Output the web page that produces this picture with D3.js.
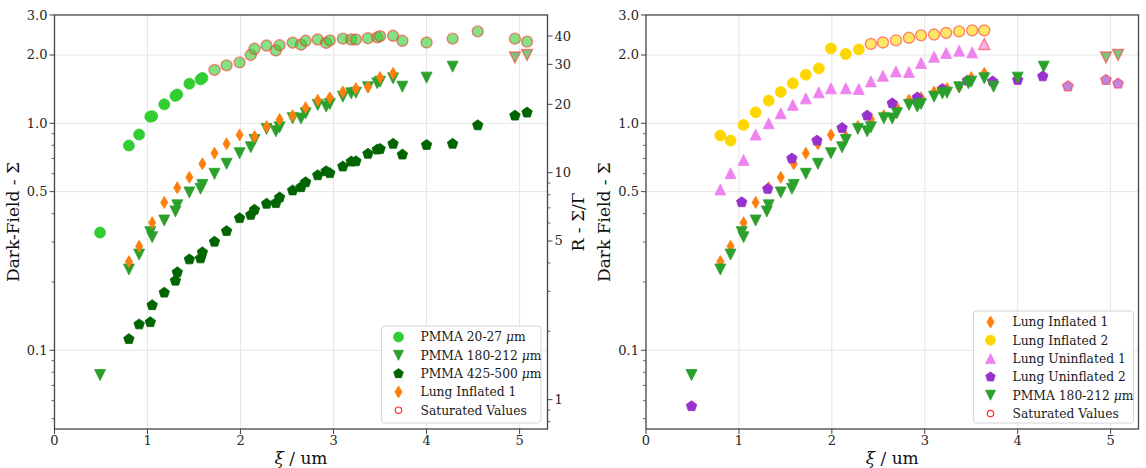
<!DOCTYPE html>
<html lang="en">
<head>
  <meta charset="UTF-8">
  <title>Dark-field vs correlation length</title>
  <script src="https://d3js.org/d3.v7.min.js"></script>
  <style>
    body { margin: 0; background: #fff; }
    svg { display: block; font-family: "DejaVu Serif", serif; }
    .tick-label { font-size: 13px; fill: #262626; }
    .axis-title { font-size: 17px; fill: #111; }
    .legend-text { font-size: 12.3px; fill: #1a1a1a; }
  </style>
</head>
<body>
  <svg id="chart" width="1146" height="468"></svg>
  <script>
    // --- data ---
    const pmma20Xi  = [0.49, 0.80, 0.91, 1.03, 1.05, 1.18, 1.30, 1.32, 1.45, 1.57, 1.59, 1.72, 1.85, 1.99, 2.11, 2.15, 2.28, 2.38, 2.42, 2.56, 2.65, 2.70, 2.83, 2.92, 2.96, 3.10, 3.19, 3.24, 3.37, 3.47, 3.50, 3.64, 3.74, 4.00, 4.28, 4.55, 4.95, 5.08];
    const pmma20Val = [0.330, 0.798, 0.892, 1.07, 1.075, 1.212, 1.32, 1.34, 1.495, 1.56, 1.585, 1.718, 1.80, 1.855, 2.0, 2.13, 2.20, 2.094, 2.21, 2.265, 2.22, 2.31, 2.34, 2.26, 2.32, 2.36, 2.34, 2.34, 2.37, 2.39, 2.42, 2.43, 2.31, 2.27, 2.36, 2.54, 2.36, 2.29];
    const pmma20SatFrom = 11;

    const pmma180Xi  = [0.49, 0.80, 0.91, 1.03, 1.05, 1.18, 1.30, 1.32, 1.45, 1.57, 1.59, 1.72, 1.85, 1.99, 2.11, 2.15, 2.28, 2.38, 2.42, 2.56, 2.65, 2.70, 2.83, 2.92, 2.96, 3.10, 3.19, 3.24, 3.37, 3.47, 3.50, 3.64, 3.74, 4.00, 4.28, 4.95, 5.08];
    const pmma180Val = [0.0778, 0.227, 0.264, 0.3315, 0.315, 0.373, 0.409, 0.435, 0.496, 0.515, 0.535, 0.599, 0.663, 0.738, 0.784, 0.845, 0.945, 0.922, 0.96, 1.052, 1.05, 1.107, 1.205, 1.184, 1.217, 1.31, 1.355, 1.364, 1.44, 1.50, 1.526, 1.578, 1.45, 1.589, 1.776, 1.95, 2.0];
    const pmma180SatFrom = 35;

    const pmma425Xi  = [0.80, 0.91, 1.03, 1.05, 1.18, 1.30, 1.32, 1.45, 1.57, 1.59, 1.72, 1.85, 1.99, 2.11, 2.15, 2.28, 2.38, 2.42, 2.56, 2.65, 2.70, 2.83, 2.92, 2.96, 3.10, 3.19, 3.24, 3.37, 3.47, 3.50, 3.64, 3.74, 4.00, 4.28, 4.55, 4.95, 5.08];
    const pmma425Val = [0.112, 0.130, 0.133, 0.158, 0.1794, 0.2026, 0.2205, 0.2514, 0.254, 0.27, 0.3008, 0.335, 0.382, 0.395, 0.416, 0.442, 0.445, 0.471, 0.506, 0.523, 0.55, 0.590, 0.615, 0.603, 0.645, 0.678, 0.680, 0.734, 0.766, 0.771, 0.812, 0.728, 0.803, 0.812, 0.98, 1.081, 1.115];
    const pmma425SatFrom = 99;

    const inflated1Xi  = [0.80, 0.91, 1.05, 1.18, 1.32, 1.45, 1.59, 1.72, 1.85, 1.99, 2.15, 2.28, 2.42, 2.56, 2.70, 2.83, 2.96, 3.10, 3.24, 3.37, 3.50, 3.64];
    const inflated1Val = [0.246, 0.287, 0.365, 0.448, 0.52, 0.578, 0.663, 0.738, 0.812, 0.889, 0.874, 0.967, 1.04, 1.081, 1.172, 1.265, 1.296, 1.375, 1.423, 1.445, 1.59, 1.66];
    const inflated1SatFrom = 99;

    const inflated2Xi  = [0.80, 0.91, 1.05, 1.18, 1.32, 1.45, 1.58, 1.72, 1.86, 1.99, 2.15, 2.29, 2.42, 2.55, 2.69, 2.83, 2.96, 3.10, 3.23, 3.37, 3.51, 3.64];
    const inflated2Val = [0.883, 0.839, 0.984, 1.118, 1.259, 1.374, 1.50, 1.637, 1.745, 2.138, 2.02, 2.116, 2.236, 2.27, 2.32, 2.38, 2.44, 2.46, 2.50, 2.54, 2.565, 2.565];
    const inflated2SatFrom = 12;

    const uninflated1Xi  = [0.80, 0.91, 1.05, 1.18, 1.32, 1.45, 1.58, 1.72, 1.86, 1.99, 2.15, 2.29, 2.42, 2.55, 2.69, 2.83, 2.96, 3.10, 3.23, 3.37, 3.51, 3.64];
    const uninflated1Val = [0.511, 0.603, 0.69, 0.892, 1.0, 1.107, 1.205, 1.288, 1.369, 1.426, 1.426, 1.417, 1.53, 1.62, 1.693, 1.683, 1.844, 1.965, 2.04, 2.089, 2.053, 2.236];
    const uninflated1SatFrom = 21;

    const uninflated2Xi  = [0.49, 1.03, 1.31, 1.57, 1.84, 2.11, 2.38, 2.65, 2.92, 3.19, 3.46, 3.73, 4.00, 4.27, 4.54, 4.95, 5.08];
    const uninflated2Val = [0.0567, 0.449, 0.514, 0.70, 0.839, 0.954, 1.081, 1.224, 1.30, 1.417, 1.541, 1.53, 1.552, 1.61, 1.455, 1.552, 1.495];
    const uninflated2SatFrom = 14;

    const xTicks = [0, 1, 2, 3, 4, 5];
    const yTicks = [0.1, 0.5, 1.0, 2.0, 3.0];
    const yMinor = [0.05, 0.06, 0.07, 0.08, 0.09, 0.2, 0.3, 0.4, 0.6, 0.7, 0.8, 0.9];
    const rTicks = [1, 5, 10, 20, 30, 40];
    const rMinor = [0.8, 0.9, 2, 3, 4, 6, 7, 8, 9];
    const rFactor = 16.5;   // R = Σ * rFactor on the twin axis

    const svg = d3.select('#chart');
    const plotTop = 15, plotBottom = 429;
    const spineColor = '#444';
    const gridColor = '#e6e6e6';

    function series(name, xi, val, satFrom, marker, color) {
      return {
        name, marker, color,
        points: xi.map((x, i) => ({ x, y: val[i], sat: i >= satFrom }))
      };
    }

    const sPmma20 = series('PMMA 20-27 ', pmma20Xi, pmma20Val, pmma20SatFrom, 'o', '#32cd32');
    const sPmma180 = series('PMMA 180-212 ', pmma180Xi, pmma180Val, pmma180SatFrom, 'v', '#2ca02c');
    const sPmma425 = series('PMMA 425-500 ', pmma425Xi, pmma425Val, pmma425SatFrom, 'p', '#006400');
    const sInfl1 = series('Lung Inflated 1', inflated1Xi, inflated1Val, inflated1SatFrom, 'd', '#ff7f0e');
    const sInfl2 = series('Lung Inflated 2', inflated2Xi, inflated2Val, inflated2SatFrom, 'o', '#ffd700');
    const sUninf1 = series('Lung Uninflated 1', uninflated1Xi, uninflated1Val, uninflated1SatFrom, '^', '#ee82ee');
    const sUninf2 = series('Lung Uninflated 2', uninflated2Xi, uninflated2Val, uninflated2SatFrom, 'p', '#9932cc');

    // marker outline, matplotlib style (ms = full size in px)
    function markerPath(type, ms) {
      const s = ms / 2;
      if (type === 'o') return d3.symbol(d3.symbolCircle, Math.PI * s * s)();
      if (type === 'v') return `M${-s},${-s}L${s},${-s}L0,${s}Z`;
      if (type === '^') return `M0,${-s}L${s},${s}L${-s},${s}Z`;
      if (type === 'd') return `M0,${-s}L${0.6 * s},0L0,${s}L${-0.6 * s},0Z`;
      if (type === 'p') {
        const pts = d3.range(5).map(k => {
          const a = -Math.PI / 2 + k * 2 * Math.PI / 5;
          return [s * Math.cos(a), s * Math.sin(a)];
        });
        return 'M' + pts.map(p => p.join(',')).join('L') + 'Z';
      }
    }

    function drawPanel(x0, x1, list, yTitle, legendBox, withTwin) {
      const g = svg.append('g');
      const x = d3.scaleLinear().domain([0, 5.3]).range([x0, x1]);
      const y = d3.scaleLog().domain([0.045, 3.0]).range([plotBottom, plotTop]);

      // grid
      g.selectAll('.vgrid').data(xTicks.filter(d => d > 0)).join('line')
        .attr('x1', d => x(d)).attr('x2', d => x(d)).attr('y1', plotTop).attr('y2', plotBottom)
        .attr('stroke', gridColor).attr('stroke-width', 1);
      g.selectAll('.hgrid').data(yTicks.filter(d => d < 3)).join('line')
        .attr('x1', x0).attr('x2', x1).attr('y1', d => y(d)).attr('y2', d => y(d))
        .attr('stroke', gridColor).attr('stroke-width', 1);

      // x ticks
      g.selectAll('.xt').data(xTicks).join('line')
        .attr('x1', d => x(d)).attr('x2', d => x(d)).attr('y1', plotBottom).attr('y2', plotBottom + 5)
        .attr('stroke', spineColor);
      g.selectAll('.xl').data(xTicks).join('text')
        .attr('class', 'tick-label').attr('x', d => x(d)).attr('y', plotBottom + 16)
        .attr('text-anchor', 'middle').text(d => d);

      // y ticks
      g.selectAll('.yt').data(yTicks).join('line')
        .attr('x1', x0 - 5).attr('x2', x0).attr('y1', d => y(d)).attr('y2', d => y(d))
        .attr('stroke', spineColor);
      g.selectAll('.ym').data(yMinor).join('line')
        .attr('x1', x0 - 3).attr('x2', x0).attr('y1', d => y(d)).attr('y2', d => y(d))
        .attr('stroke', spineColor).attr('stroke-width', 0.8);
      g.selectAll('.yl').data(yTicks).join('text')
        .attr('class', 'tick-label').attr('x', x0 - 7).attr('y', d => y(d) + 4.5)
        .attr('text-anchor', 'end').text(d => d3.format('.1f')(d));

      // twin axis on the right
      if (withTwin) {
        const r = d3.scaleLog().domain([0.045 * rFactor, 3.0 * rFactor]).range([plotBottom, plotTop]);
        g.selectAll('.rt').data(rTicks).join('line')
          .attr('x1', x1).attr('x2', x1 + 5).attr('y1', d => r(d)).attr('y2', d => r(d))
          .attr('stroke', spineColor);
        g.selectAll('.rm').data(rMinor).join('line')
          .attr('x1', x1).attr('x2', x1 + 3).attr('y1', d => r(d)).attr('y2', d => r(d))
          .attr('stroke', spineColor).attr('stroke-width', 0.8);
        g.selectAll('.rl').data(rTicks).join('text')
          .attr('class', 'tick-label').attr('x', x1 + 7).attr('y', d => r(d) + 4.5)
          .attr('text-anchor', 'start').text(d => d);
        g.append('text').attr('class', 'axis-title')
          .attr('transform', `translate(${x1 + 36},${(plotTop + plotBottom) / 2}) rotate(-90)`)
          .attr('text-anchor', 'middle').text('R - Σ/Γ');
      }

      // points
      list.forEach(s => {
        g.append('g').selectAll('path').data(s.points).join('path')
          .attr('transform', d => `translate(${x(d.x)},${y(d.y)})`)
          .attr('d', markerPath(s.marker, s.marker === 'd' ? 12 : 11))
          .attr('fill', s.color)
          .attr('fill-opacity', d => d.sat ? 0.6 : 1)
          .attr('stroke', d => d.sat ? '#ff2a2a' : s.color)
          .attr('stroke-opacity', d => d.sat ? 0.55 : 1)
          .attr('stroke-width', d => d.sat ? 1.4 : 0.8);
      });

      // frame
      g.append('rect').attr('x', x0).attr('y', plotTop).attr('width', x1 - x0).attr('height', plotBottom - plotTop)
        .attr('fill', 'none').attr('stroke', spineColor).attr('stroke-width', 1.3);

      // axis titles
      const xt = g.append('text').attr('class', 'axis-title')
        .attr('x', (x0 + x1) / 2).attr('y', plotBottom + 35).attr('text-anchor', 'middle');
      xt.append('tspan').attr('font-style', 'italic').text('ξ');
      xt.append('tspan').text(' / um');
      g.append('text').attr('class', 'axis-title')
        .attr('transform', `translate(${x0 - 36},${(plotTop + plotBottom) / 2}) rotate(-90)`)
        .attr('text-anchor', 'middle').text(yTitle);

      // legend
      const lg = g.append('g');
      lg.append('rect').attr('x', legendBox.x).attr('y', legendBox.y)
        .attr('width', legendBox.w).attr('height', legendBox.h).attr('rx', 3)
        .attr('fill', '#fff').attr('fill-opacity', 0.85).attr('stroke', '#d4d4d4');
      const rows = list.map(s => ({ s })).concat([{ sat: true }]);
      rows.forEach((row, i) => {
        const cy = legendBox.y + 11 + i * 18.3;
        const mx = legendBox.x + 17;
        if (row.sat) {
          lg.append('circle').attr('cx', mx).attr('cy', cy).attr('r', 3.2)
            .attr('fill', 'none').attr('stroke', '#ff2a2a').attr('stroke-width', 1.2);
        } else {
          lg.append('path').attr('transform', `translate(${mx},${cy})`)
            .attr('d', markerPath(row.s.marker, row.s.marker === 'd' ? 12 : 10))
            .attr('fill', row.s.color).attr('stroke', row.s.color).attr('stroke-width', 0.8);
        }
        const t = lg.append('text').attr('class', 'legend-text')
          .attr('x', legendBox.x + 39).attr('y', cy + 4.3);
        if (row.sat) {
          t.text('Saturated Values');
        } else if (row.s.name.startsWith('PMMA')) {
          t.append('tspan').text(row.s.name);
          t.append('tspan').attr('font-style', 'italic').text('μ');
          t.append('tspan').text('m');
        } else {
          t.text(row.s.name);
        }
      });
    }

    drawPanel(54.5, 547.5, [sPmma20, sPmma180, sPmma425, sInfl1], 'Dark-Field - Σ',
      { x: 381.5, y: 326, w: 159.5, h: 97 }, true);
    drawPanel(646, 1138.5, [sInfl1, sInfl2, sUninf1, sUninf2, sPmma180], 'Dark Field - Σ',
      { x: 973.5, y: 311, w: 160, h: 112 }, false);
  </script>
</body>
</html>
